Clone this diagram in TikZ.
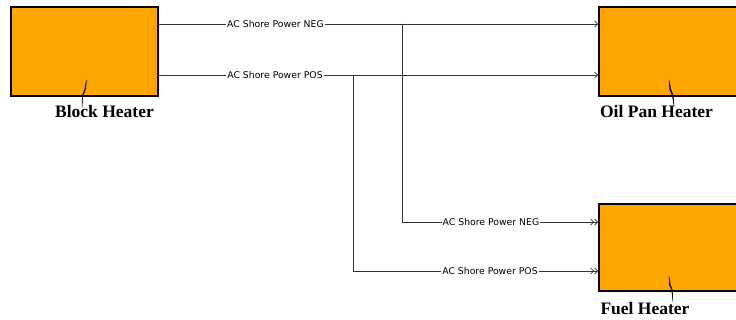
\documentclass[tikz,border=0pt]{standalone}
\usepackage{fontspec}
\setmainfont{Liberation Serif}
\newfontfamily\wirefont{DejaVu Sans}
\usetikzlibrary{arrows.meta, positioning, calc}
\definecolor{cheater}{HTML}{FFA500}
\definecolor{cwire}{HTML}{333333}
\tikzset{
  every picture/.style={line width=0.7pt},
  heaterbox/.style={draw=black, fill=cheater, line width=1.6pt, minimum width=147pt, minimum height=89pt, inner sep=0pt, anchor=north west},
  wire/.style={draw=cwire, line width=0.7pt},
  feed/.style={wire, -{Straight Barb[length=3pt, width=6pt]}},
  feedtwo/.style={wire, -{Straight Barb[length=3pt, width=6pt] Straight Barb[length=3pt, width=6pt]}},
  wirelabel/.style={font=\wirefont\fontsize{9.3}{10}\selectfont, fill=white, inner sep=1pt},
  title/.style={font=\bfseries\fontsize{17.5}{20}\selectfont, inner sep=0pt, anchor=base},
  pointer/.style={fill=black, draw=black, line width=0.3pt},
}

\begin{document}
\begin{tikzpicture}[x=1pt, y=-1pt]
  \useasboundingbox (0,0) rectangle (736,320);
  % heaters
  \node[heaterbox] (block) at (10,6) {};
  \node[heaterbox] (oilpan) at (598,6) {};
  \node[heaterbox, minimum height=87pt] (fuel) at (598,203) {};
  \node[title] (blocklbl) at (104.5,118) {Block Heater};
  \node[title] (oilpanlbl) at (656.5,118) {Oil Pan Heater};
  \node[title] (fuellbl) at (645,314) {Fuel Heater};
  % label pointers
  \fill[pointer] (82,108) -- (82.8,96) -- (85.4,90) -- (86.6,80) -- (84.4,90) -- (82.2,96) -- cycle;
  \fill[pointer] (674,106) -- (673.4,96) -- (670.8,89) -- (669,80) -- (669.6,89) -- (672.4,96) -- cycle;
  \fill[pointer] (673,302) -- (672.4,290) -- (670.4,285) -- (669,276) -- (669.4,285) -- (671.6,290) -- cycle;
  % shore power wiring
  \coordinate (negsplit) at (402,24);
  \coordinate (possplit) at (353,75);
  \draw[feed] (block.east |- negsplit) -- (oilpan.west |- negsplit);
  \draw[feed] (block.east |- possplit) -- (oilpan.west |- possplit);
  \draw[feedtwo] (negsplit) |- (fuel.west |- 0,222);
  \draw[feedtwo] (possplit) |- (fuel.west |- 0,271);
  \node[wirelabel] (negtop) at (275.5,24) {AC Shore Power NEG};
  \node[wirelabel] (postop) at (275,75) {AC Shore Power POS};
  \node[wirelabel] (negfuel) at (491,222) {AC Shore Power NEG};
  \node[wirelabel] (posfuel) at (490,271) {AC Shore Power POS};
\end{tikzpicture}
\end{document}
